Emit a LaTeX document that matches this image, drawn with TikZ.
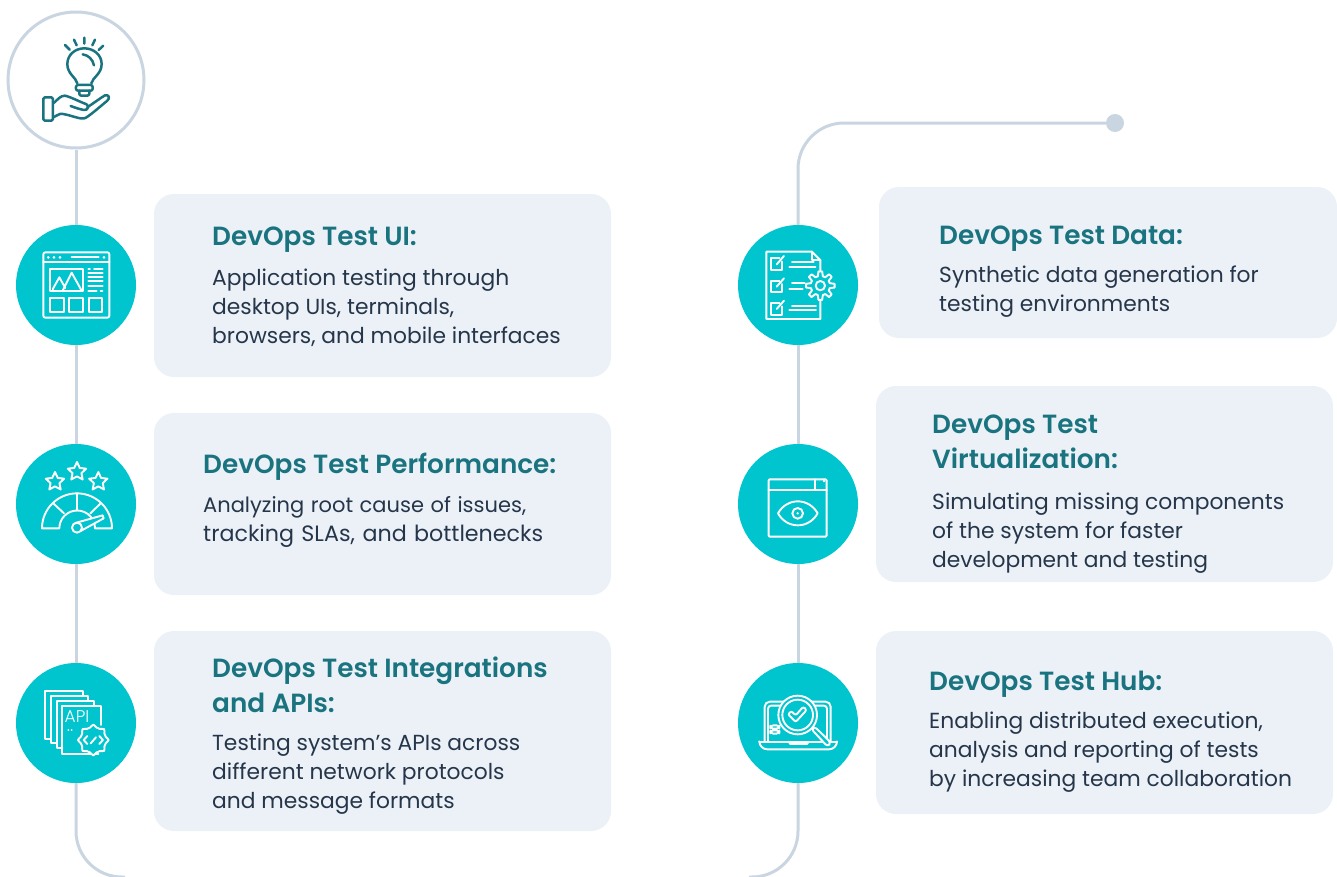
\documentclass[tikz,border=0pt]{standalone}
\usepackage{fontspec}
\setmainfont{Poppins}
\newfontfamily\titlefam{Poppins SemiBold}
\newfontfamily\lightfam{Poppins Light}
\usetikzlibrary{calc}
\definecolor{linegrey}{HTML}{C9D5E0}
\definecolor{boxfill}{HTML}{EBF1F7}
\definecolor{tealdisc}{HTML}{00C4CE}
\definecolor{titlecol}{HTML}{1A7480}
\definecolor{bodycol}{HTML}{26364A}
\newcommand{\lstack}[1]{\begin{tabular}[t]{@{}l@{}}#1\end{tabular}}
\tikzset{
  x=1pt,y=-1pt,
  connector/.style={draw=linegrey,line width=3pt},
  disc/.style={circle,fill=tealdisc,minimum size=120pt,inner sep=0pt},
  herodisc/.style={circle,draw=linegrey,line width=3pt,fill=white,minimum size=136pt,inner sep=0pt},
  cardbox/.style={fill=boxfill,draw=none,rounded corners=20pt},
  headtext/.style={anchor=base west,inner sep=0pt,text=titlecol,font=\titlefam\fontsize{26.3}{35}\selectfont},
  bodytext/.style={anchor=base west,inner sep=0pt,text=bodycol,font=\fontsize{21.8}{29}\selectfont},
  iconline/.style={draw=white,line width=1.9pt,line cap=round,line join=round},
  heroline/.style={draw=titlecol,line width=2.5pt,line cap=round,line join=round},
  iconscope/.style={shift={#1},x=0.3333pt,y=-0.3333pt},
}
\begin{document}
\begin{tikzpicture}
\useasboundingbox (0,0) rectangle (1337,876);
% nodes
\node[herodisc] (hero) at (76,80) {};
\node[disc] (c1) at (76,285) {};
\node[disc] (c2) at (76,504) {};
\node[disc] (c3) at (76,723) {};
\node[disc] (c4) at (798,285) {};
\node[disc] (c5) at (798,504) {};
\node[disc] (c6) at (798,723) {};
\node[circle,fill=linegrey,minimum size=18pt,inner sep=0pt] (dot) at (1115,123) {};
\coordinate (leftend) at (125,877);
\coordinate (rightend) at (749,877);
% connectors
\draw[connector] (hero) -- (c1);
\draw[connector] (c1) -- (c2);
\draw[connector] (c2) -- (c3);
\draw[connector,rounded corners=46pt] (c3.south) |- (leftend);
\draw[connector] (c4) -- (c5);
\draw[connector] (c5) -- (c6);
\draw[connector,rounded corners=46pt] (c6.south) |- (rightend);
\draw[connector,rounded corners=46pt] (c4.north) |- (dot);
% cards
\fill[cardbox] (154,194) rectangle (611,377);
\fill[cardbox] (154,413) rectangle (611,595);
\fill[cardbox] (154,631) rectangle (611,831);
\fill[cardbox] (879,187) rectangle (1337,338);
\fill[cardbox] (876,386) rectangle (1333,582);
\fill[cardbox] (876,631) rectangle (1333,814);
% text
\node[headtext] (t1) at (212,245) {DevOps Test UI:};
\node[bodytext] (b1) at (212,285) {\lstack{Application testing through\\desktop UIs, terminals,\\browsers, and mobile interfaces}};
\node[headtext] (t2) at (203,473) {DevOps Test Performance:};
\node[bodytext] (b2) at (203,512) {\lstack{\makebox[323pt][s]{\fontsize{21}{29}\selectfont Analyzing root cause of issues,}\\\makebox[340pt][s]{\fontsize{22.2}{29}\selectfont tracking SLAs, and bottlenecks}}};
\node[headtext] (t3) at (212,677) {\lstack{DevOps Test Integrations\\and APIs:}};
\node[bodytext] (b3) at (212,750) {\lstack{Testing system’s APIs across\\different network protocols\\and message formats}};
\node[headtext] (t4) at (939,244) {DevOps Test Data:};
\node[bodytext] (b4) at (939,282) {\lstack{Synthetic data generation for\\testing environments}};
\node[headtext] (t5) at (932,433) {\lstack{DevOps Test\\Virtualization:}};
\node[bodytext] (b5) at (932,509) {\lstack{Simulating missing components\\of the system for faster\\development and testing}};
\node[headtext] (t6) at (929,690) {DevOps Test Hub:};
\node[bodytext] (b6) at (929,728) {\lstack{Enabling distributed execution,\\analysis and reporting of tests\\by increasing team collaboration}};
% hero icon
\begin{scope}[iconscope={(0,0)}]
\draw[heroline] (253,113)--(253,131) (222,119)--(230,136) (285,119)--(277,136) (195,135)--(209,149) (310,137)--(296,150);
\draw[heroline] (232,250) .. controls (228,232) and (202,222) .. (202,192) .. controls (202,164) and (226,145) .. (253,145) .. controls (280,145) and (305,164) .. (305,192) .. controls (305,222) and (278,232) .. (274,250);
\draw[heroline] (248,163) .. controls (266,166) and (278,178) .. (282,196);
\draw[heroline,rounded corners=2pt] (228,255) rectangle (278,272);
\draw[heroline,rounded corners=2pt] (238,272) -- (238,287) -- (268,287) -- (268,272);
\draw[heroline,rounded corners=1.5pt] (130,292) rectangle (159,362);
\draw[heroline] (160,310) .. controls (172,300) and (182,286) .. (195,287) .. controls (215,292) and (240,306) .. (258,312) .. controls (268,316) and (265,332) .. (252,330) .. controls (240,328) and (225,323) .. (212,318);
\draw[heroline] (262,322) .. controls (280,310) and (300,295) .. (315,286) .. controls (328,282) and (330,296) .. (322,302) .. controls (300,320) and (278,340) .. (258,353) .. controls (250,358) and (240,355) .. (228,352) .. controls (210,347) and (190,340) .. (180,342) .. controls (172,344) and (166,350) .. (160,352);
\end{scope}
% UI icon
\begin{scope}[iconscope={(10,220)}]
\draw[iconline,rounded corners=2pt] (100,97) rectangle (298,293);
\draw[iconline] (100,125)--(298,125);
\fill[white] (115,112) circle[radius=4.5] (132,112) circle[radius=4.5] (150,112) circle[radius=4.5] (282,112) circle[radius=4.5];
\draw[iconline] (185,112)--(266,112);
\draw[iconline] (120,146) rectangle (220,214);
\draw[iconline] (128,208)--(148,172)--(166,204) (158,212)--(185,158)--(215,212);
\draw[iconline] (235,146)--(240,146) (252,146)--(278,146) (235,160)--(278,160) (235,172)--(278,172) (235,184)--(278,184) (235,197)--(278,197) (235,212)--(260,212) (272,212)--(277,212);
\draw[iconline] (120,233) rectangle (162,275) (176,233) rectangle (218,275) (236,233) rectangle (276,275);
\end{scope}
% performance icon
\begin{scope}[iconscope={(10,440)}]
\foreach \cx/\cy in {135/125,201/95,265/125}{
 \draw[iconline] plot[samples at={90,126,...,414},variable=\t] ({\cx+(mod(round(\t-90),72)==0?29:14)*cos(\t)},{\cy-(mod(round(\t-90),72)==0?29:14)*sin(\t)}) -- cycle;
}
\draw[iconline] (96,265) arc[start angle=180,end angle=360,radius=105] -- (255,265) arc[start angle=360,end angle=180,radius=53.5] -- cycle;
\draw[iconline] (201,160)--(201,210) (130,190)--(162,220) (272,190)--(241,220);
\draw[iconline,fill=tealdisc] (196,249)--(278,226)--(281,235)--(212,273)--cycle;
\draw[iconline,fill=tealdisc] (201,263) circle[radius=15];
\end{scope}
% API icon
\begin{scope}[iconscope={(10,660)}]
\draw[iconline] (218,108)--(218,93)--(104,93)--(104,237)--(122,237);
\draw[iconline] (235,122)--(235,108)--(122,108)--(122,250)--(140,250);
\draw[iconline] (253,138)--(253,122)--(140,122)--(140,265)--(157,265);
\draw[iconline] (272,195)--(272,138)--(157,138)--(157,283)--(265,283);
\node[inner sep=0pt,text=white,font=\lightfam\fontsize{17}{17}\selectfont] (apilabel) at (201,170) {API};
\fill[white] (175,210) circle[radius=3] (185,210) circle[radius=3];
\draw[iconline,fill=tealdisc] plot[smooth cycle,samples at={0,15,...,345},variable=\t] ({250+(41+5*cos(8*\t))*cos(\t)},{240+(41+5*cos(8*\t))*sin(\t)});
\draw[iconline] (232,228)--(221,240)--(232,252) (268,228)--(279,240)--(268,252) (242,250)--(258,232);
\end{scope}
% data icon
\begin{scope}[iconscope={(732,220)}]
\draw[iconline] (265,150)--(265,120)--(240,95)--(103,95)--(103,297)--(265,297)--(265,240);
\draw[iconline] (240,95)--(240,120)--(265,120);
\foreach \yy in {115,182,249}{
 \draw[iconline] (150,\yy+10)--(150,\yy+35)--(118,\yy+35)--(118,\yy)--(142,\yy);
 \draw[iconline] (134,\yy+18)--(156,\yy-7);
}
\draw[iconline] (180,127)--(245,127) (172,140)--(250,140) (180,190)--(218,190) (172,207)--(212,207) (180,258)--(252,258) (172,271)--(252,271);
\draw[iconline,fill=tealdisc] plot[samples at={0,7.5,...,352.5},variable=\t] ({265+(36+7*max(min(3*cos(8*\t),1),-1))*cos(\t)},{197+(36+7*max(min(3*cos(8*\t),1),-1))*sin(\t)}) -- cycle;
\draw[iconline] (265,197) circle[radius=14];
\end{scope}
% virtualization icon
\begin{scope}[iconscope={(732,440)}]
\draw[iconline,rounded corners=1pt] (110,118) rectangle (284,290);
\draw[iconline] (110,150)--(284,150) (250,118)--(250,150) (275,118)--(275,124);
\draw[iconline] (138,220) .. controls (165,172) and (230,172) .. (257,220) .. controls (230,268) and (165,268) .. (138,220) -- cycle;
\draw[iconline] (197,220) circle[radius=16];
\fill[white] (197,220) circle[radius=4];
\end{scope}
% hub icon
\begin{scope}[iconscope={(732,660)}]
\draw[iconline,rounded corners=5pt] (98,243)--(98,125)--(296,125)--(296,243);
\draw[iconline,rounded corners=3pt] (108,243)--(108,137)--(285,137)--(285,243);
\draw[iconline,rounded corners=8pt] (82,245)--(82,268)--(315,268)--(315,245);
\draw[iconline] (82,245)--(315,245);
\draw[iconline] (170,245)--(175,252)--(225,252)--(230,245);
\draw[iconline,rounded corners=3pt] (115,196) rectangle (142,206) (115,211) rectangle (142,221);
\draw[iconline,fill=tealdisc] (197,165) circle[radius=58];
\draw[iconline] (197,165) circle[radius=46];
\draw[iconline,fill=tealdisc,rounded corners=3pt] (238,207)--(248,200)--(297,248)--(287,260)--cycle;
\draw[iconline,fill=tealdisc,rounded corners=2pt] (168,163)--(178,153)--(191,166)--(214,140)--(224,150)--(191,186)--cycle;
\end{scope}
\end{tikzpicture}
\end{document}
